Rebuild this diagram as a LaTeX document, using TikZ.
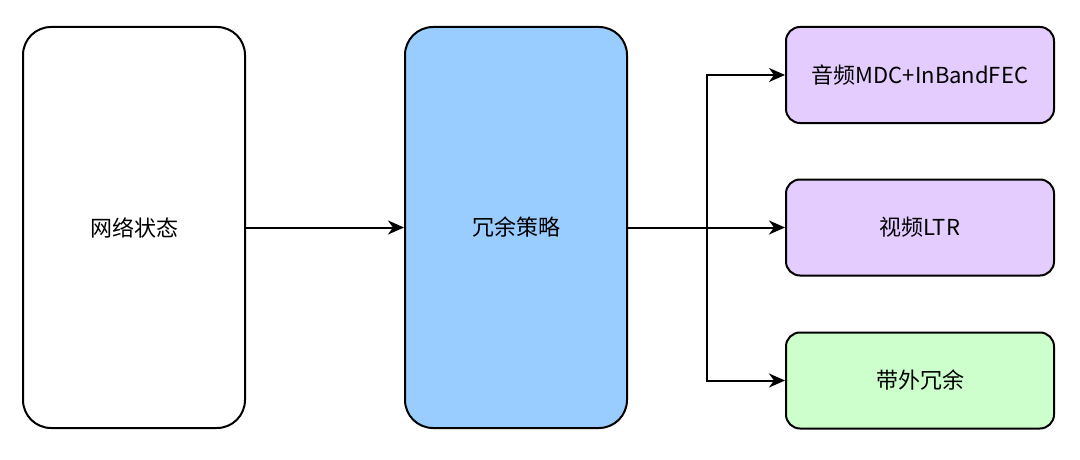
\documentclass[tikz,border=0pt]{standalone}
\usepackage{fontspec}
\setmainfont{Liberation Sans}
\newfontfamily\cjk{Noto Sans CJK SC}
\usetikzlibrary{arrows.meta}
\definecolor{blueF}{HTML}{99CCFF}
\definecolor{purpF}{HTML}{E5CCFF}
\definecolor{greenF}{HTML}{CCFFCC}
\tikzset{
  bigbox/.style={draw=black, line width=2pt, rounded corners=28pt, minimum width=222pt, minimum height=401pt, inner sep=0pt, font=\cjk\fontsize{22pt}{26pt}\selectfont},
  smallbox/.style={draw=black, line width=2pt, rounded corners=14pt, minimum width=268pt, minimum height=96pt, inner sep=0pt, font=\cjk\fontsize{22pt}{26pt}\selectfont},
  conn/.style={line width=2pt, -{Stealth[length=16pt,width=14pt,inset=5pt]}}
}
\begin{document}
\begin{tikzpicture}[x=1pt,y=-1pt]
\useasboundingbox (0,0) rectangle (1080,460);
\node[bigbox, fill=white] (net) at (134,227.5) {网络状态};
\node[bigbox, fill=blueF] (red) at (516,227.5) {冗余策略};
\node[smallbox, fill=purpF] (aud) at (920,75) {音频MDC+InBandFEC};
\node[smallbox, fill=purpF] (vid) at (920,227.5) {视频LTR};
\node[smallbox, fill=greenF] (oob) at (920,380.5) {带外冗余};
\coordinate (split) at (707,227.5);
\draw[conn] (net) -- (red);
\draw[conn] (red.east) -- (vid.west);
\draw[conn] (split) |- (aud.west);
\draw[conn] (split) |- (oob.west);
\end{tikzpicture}
\end{document}
